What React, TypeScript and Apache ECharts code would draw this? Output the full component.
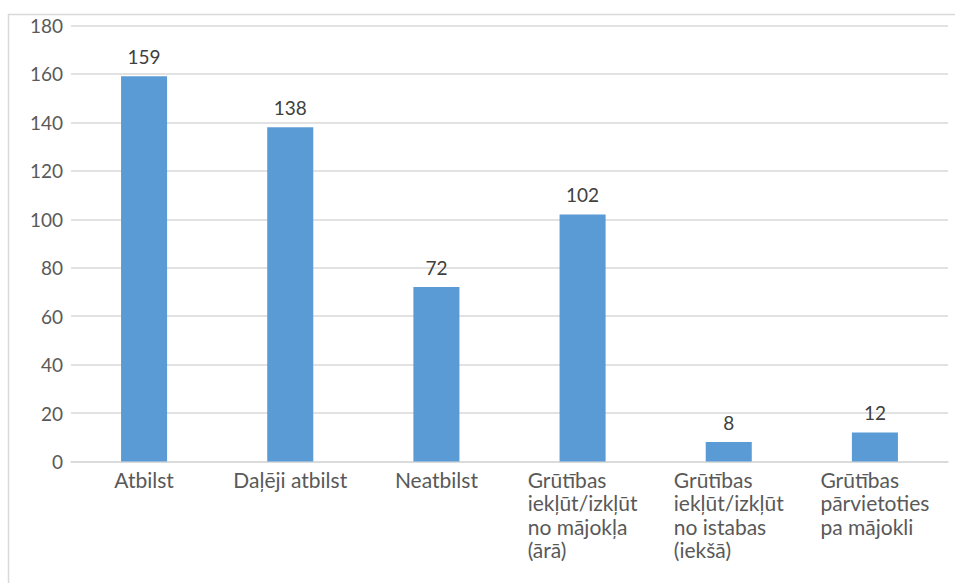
import React, { useEffect, useRef } from "react";
import * as echarts from "echarts";

const categories: string[][] = [
  ["Atbilst"],
  ["Daļēji atbilst"],
  ["Neatbilst"],
  ["Grūtības", "iekļūt/izkļūt", "no mājokļa", "(ārā)"],
  ["Grūtības", "iekļūt/izkļūt", "no istabas", "(iekšā)"],
  ["Grūtības", "pārvietoties", "pa mājokli"],
];
const values: number[] = [159, 138, 72, 102, 8, 12];
const yTicks = { min: 0, max: 180, interval: 20 };

export default function App() {
  const ref = useRef<HTMLDivElement>(null);
  useEffect(() => {
    if (!ref.current) return;
    const chart = echarts.init(ref.current, undefined, { renderer: "svg" });
    const font = "Lato, 'Open Sans', sans-serif";
    chart.setOption({
      animation: false,
      textStyle: { fontFamily: font },
      grid: { left: 71, right: 7, top: 25.5, bottom: 121.5, containLabel: false },
      xAxis: {
        type: "category",
        data: categories.map((c) => c.join("\n")),
        axisTick: { show: false },
        axisLine: { lineStyle: { color: "#d9d9d9", width: 1.5 } },
        axisLabel: {
          interval: 0,
          margin: 6.5,
          color: "#595959",
          fontSize: 21,
          fontFamily: font,
          lineHeight: 23.3,
          formatter: (v: string) =>
            v.split("\n").map((l) => `{a|${l}}`).join("\n"),
          rich: {
            a: { align: "left", color: "#595959", fontSize: 21, fontFamily: font, lineHeight: 23.3 },
          },
        },
      },
      yAxis: {
        type: "value",
        min: yTicks.min,
        max: yTicks.max,
        interval: yTicks.interval,
        axisLine: { show: false },
        axisTick: { show: false },
        splitLine: { lineStyle: { color: "#d9d9d9", width: 1.5 } },
        axisLabel: { color: "#595959", fontSize: 19, fontFamily: font, margin: 8 },
      },
      series: [
        {
          type: "bar",
          data: values,
          barWidth: "31.5%",
          itemStyle: { color: "#5b9bd5" },
          label: {
            show: true,
            position: "top",
            distance: 10,
            color: "#404040",
            fontSize: 19,
            fontFamily: font,
          },
        },
      ],
      graphic: [
        {
          type: "polyline",
          shape: { points: [[8.5, 600], [8.5, 14.5], [960, 14.5]] },
          style: { stroke: "#d9d9d9", lineWidth: 1.5, fill: null },
          silent: true,
        },
      ],
    });
    return () => chart.dispose();
  }, []);
  return (
    <div
      ref={ref}
      style={{ position: "absolute", left: 0, top: 0, width: 955, height: 583, background: "#fff" }}
    />
  );
}
